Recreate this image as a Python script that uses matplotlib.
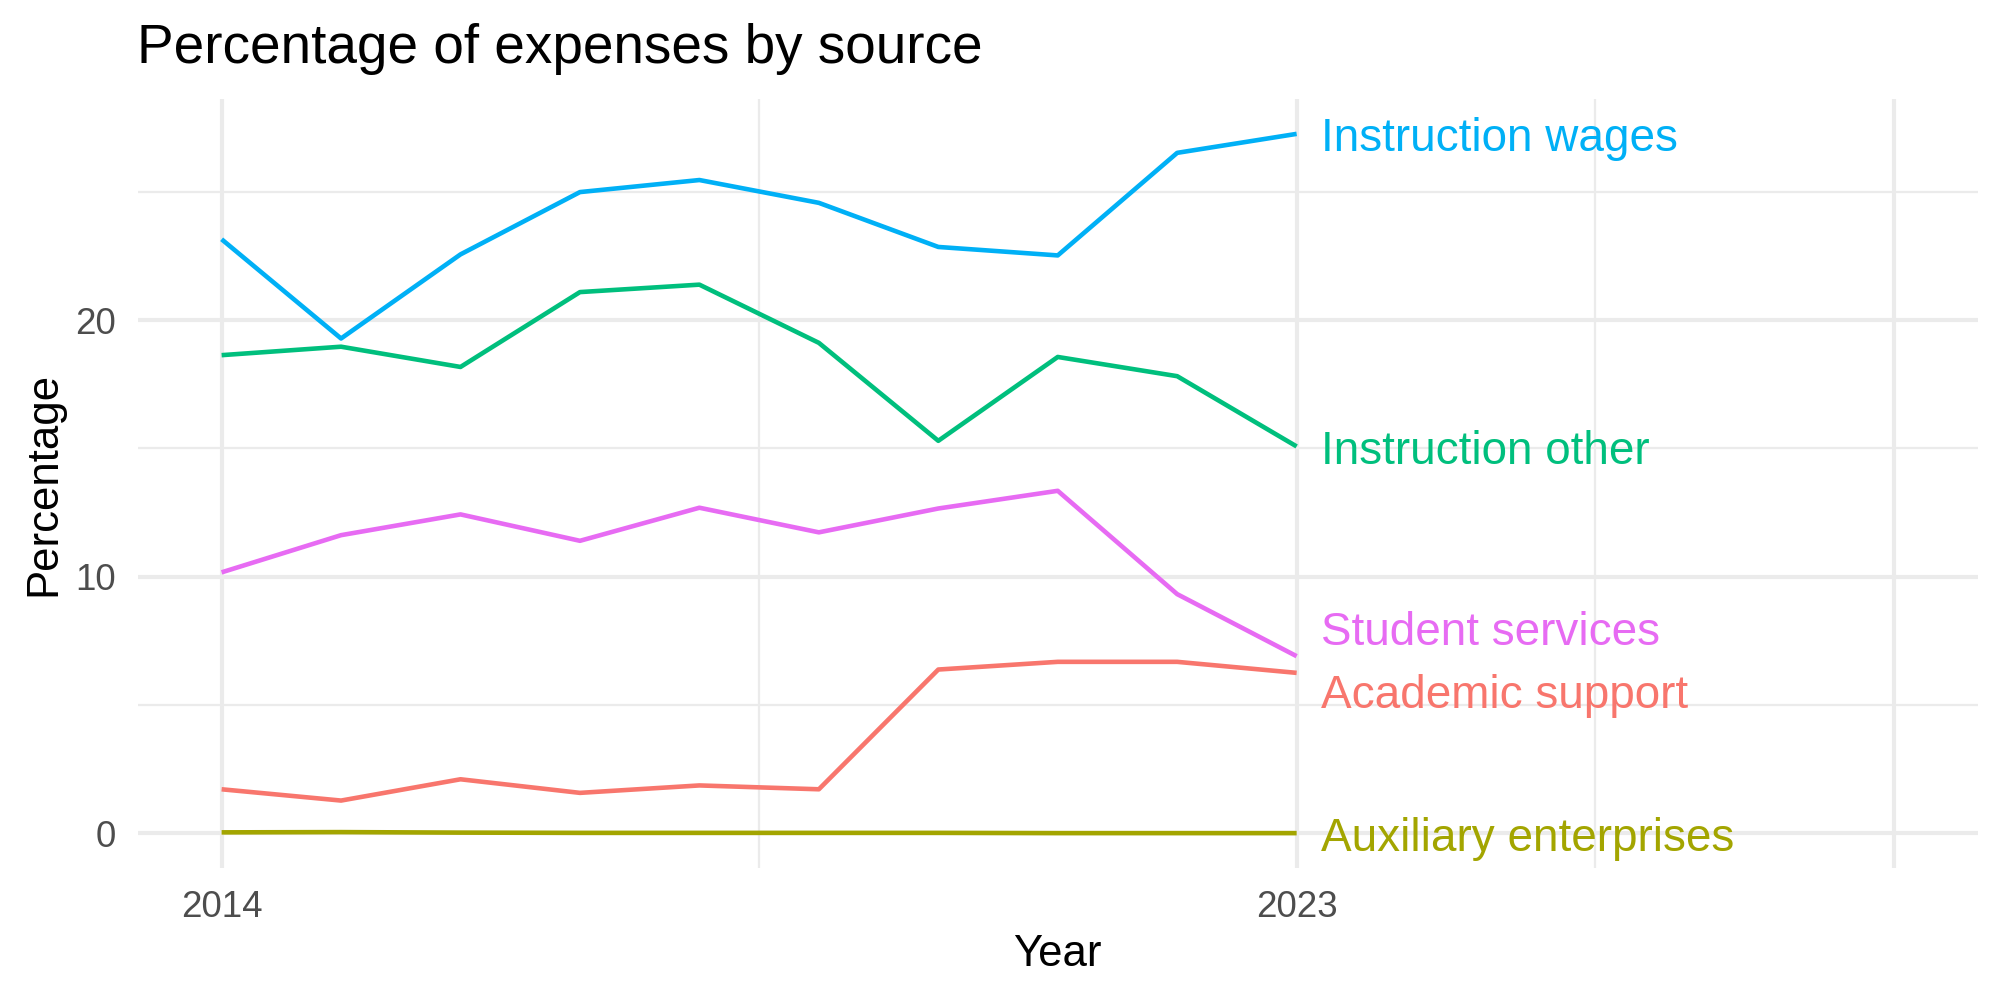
import matplotlib
matplotlib.use("Agg")
import matplotlib.pyplot as plt
from matplotlib.ticker import FixedLocator

plt.rcParams['font.family'] = ['Liberation Sans', 'DejaVu Sans']

# data
years = [2014, 2015, 2016, 2017, 2018, 2019, 2020, 2021, 2022, 2023]
academic_support = [1.71, 1.27, 2.10, 1.57, 1.86, 1.71, 6.38, 6.68, 6.68, 6.25]
auxiliary_enterprises = [0.03, 0.04, 0.02, 0.01, 0.01, 0.01, 0.01, 0.0, 0.0, 0.0]
instruction_other = [18.64, 18.97, 18.18, 21.10, 21.39, 19.12, 15.30, 18.57, 17.82, 15.08]
instruction_wages = [23.16, 19.29, 22.57, 25.00, 25.47, 24.58, 22.86, 22.53, 26.53, 27.27]
student_services = [10.17, 11.62, 12.43, 11.40, 12.69, 11.73, 12.66, 13.35, 9.32, 6.90]

series_names = ['Academic support', 'Auxiliary enterprises', 'Instruction other',
                'Instruction wages', 'Student services']
series_values = [academic_support, auxiliary_enterprises, instruction_other,
                 instruction_wages, student_services]
colors = ['#F8766D', '#A3A500', '#00BF7D', '#00B0F6', '#E76BF3']

# end labels were pushed apart (repelled) in the original
label_y = {'Academic support': 5.52, 'Auxiliary enterprises': -0.06,
           'Instruction other': 15.04, 'Instruction wages': 27.26,
           'Student services': 7.97}

x_major = [2014, 2023, 2028]
x_labels = ['2014', '2023', '']
x_minor = [2018.5, 2025.5]
y_major = [0, 10, 20]
y_minor = [5, 15, 25]

fig = plt.figure(figsize=(20, 10), dpi=100)
ax = fig.add_axes([0.069, 0.132, 0.91975, 0.769])

grid_col = '#EBEBEB'
for x in x_major:
    ax.axvline(x, color=grid_col, lw=3.0, zorder=0)
for x in x_minor:
    ax.axvline(x, color=grid_col, lw=1.6, zorder=0)
for y in y_major:
    ax.axhline(y, color=grid_col, lw=3.0, zorder=0)
for y in y_minor:
    ax.axhline(y, color=grid_col, lw=1.6, zorder=0)

label_fs = 33
for name, vals, col in zip(series_names, series_values, colors):
    ax.plot(years, vals, color=col, lw=3.3, solid_capstyle='butt', zorder=2)
    ax.annotate(name, xy=(years[-1], label_y[name]),
                xytext=(17.5, -0.716 * label_fs / 2), textcoords='offset points',
                color=col, fontsize=label_fs, ha='left', va='baseline')

ax.set_xlim(2013.3, 2028.7)
ax.set_ylim(-1.36, 28.63)
ax.xaxis.set_major_locator(FixedLocator(x_major))
ax.set_xticklabels(x_labels)
ax.yaxis.set_major_locator(FixedLocator(y_major))
ax.tick_params(axis='both', length=0, labelsize=26.5, labelcolor='#4D4D4D')
ax.tick_params(axis='x', pad=16)
ax.tick_params(axis='y', pad=16)
for s in ax.spines.values():
    s.set_visible(False)

ax.set_xlabel('Year', fontsize=31.5)
ax.set_ylabel('Percentage', fontsize=31.5)
ax.xaxis.set_label_coords(0.5, -0.0854)
ax.yaxis.set_label_coords(-0.040, 0.5)

fig.text(0.0685, 0.937, 'Percentage of expenses by source', fontsize=39.5,
         ha='left', va='baseline')

fig.savefig('out.png', dpi=100, facecolor='white')
